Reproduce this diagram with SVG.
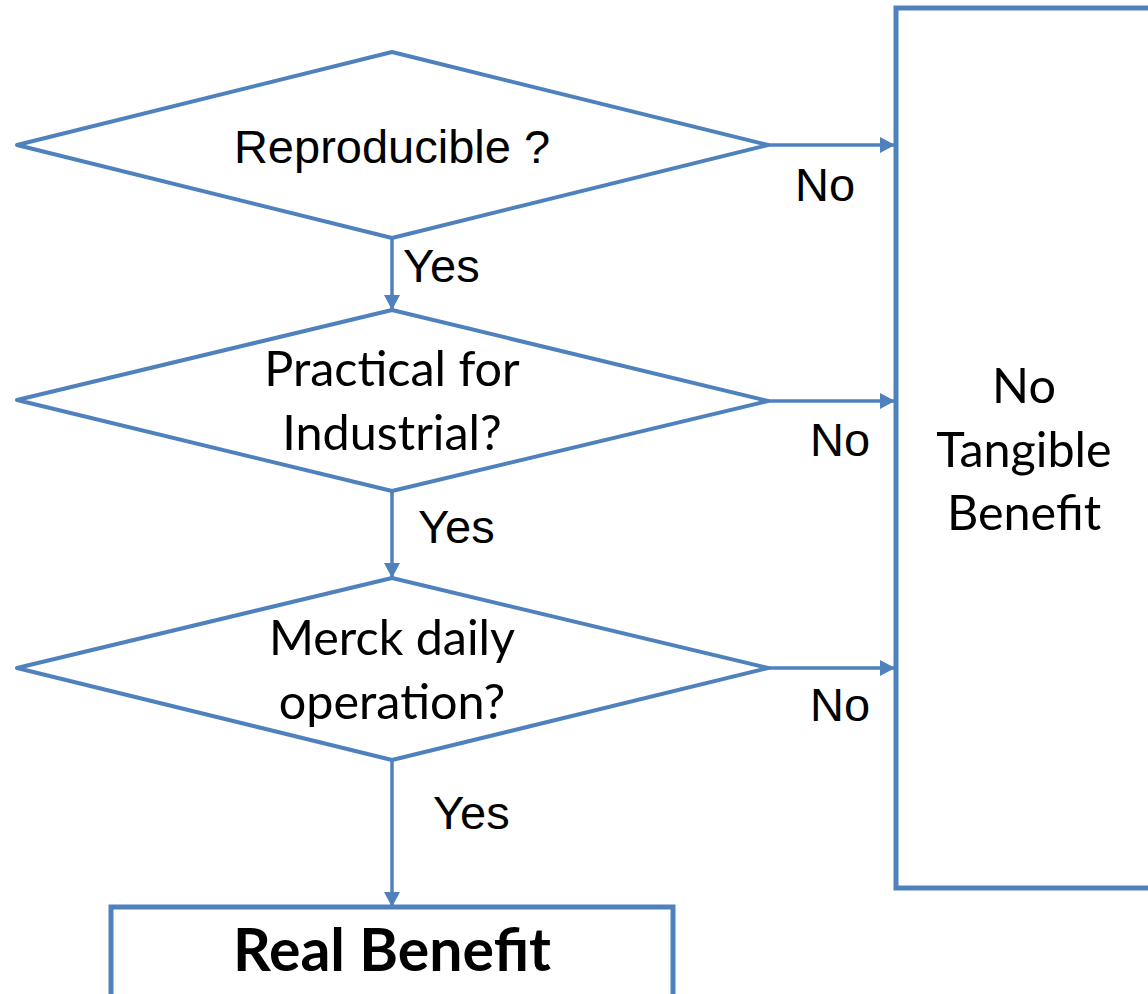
<svg xmlns="http://www.w3.org/2000/svg" width="1148" height="994" viewBox="0 0 1148 994">
  <defs>
    <style>
      .shape { fill: #FFFFFF; stroke: #4F81BD; stroke-width: 4; stroke-linejoin: round; }
      .box { fill: #FFFFFF; stroke: #4F81BD; stroke-width: 5; }
      .conn { fill: none; stroke: #4F81BD; stroke-width: 3.5; }
      .arial { font-family: "Liberation Sans", Arial, sans-serif; fill: #000000; }
      .cal { font-family: Lato, "Open Sans", sans-serif; fill: #000000; }
      .lbl { font-family: "Liberation Sans", Arial, sans-serif; font-size: 47px; fill: #000000; }
    </style>
    <marker id="arr" markerUnits="userSpaceOnUse" markerWidth="16" markerHeight="16" refX="15" refY="8" orient="auto">
      <path d="M0,0 L15,8 L0,16 Z" fill="#4F81BD"/>
    </marker>
  </defs>
  <rect width="1148" height="994" fill="#FFFFFF"/>

  <g id="connectors">
    <line class="conn" x1="768" y1="145" x2="895" y2="145" marker-end="url(#arr)"/>
    <line class="conn" x1="768" y1="401" x2="895" y2="401" marker-end="url(#arr)"/>
    <line class="conn" x1="768" y1="668" x2="895" y2="668" marker-end="url(#arr)"/>
    <line class="conn" x1="392" y1="238" x2="392" y2="310" marker-end="url(#arr)"/>
    <line class="conn" x1="392" y1="491" x2="392" y2="578" marker-end="url(#arr)"/>
    <line class="conn" x1="392" y1="760" x2="392" y2="907" marker-end="url(#arr)"/>
    <text class="lbl" x="795" y="201">No</text>
    <text class="lbl" x="810" y="456">No</text>
    <text class="lbl" x="810" y="721">No</text>
    <text class="lbl" x="403" y="282">Yes</text>
    <text class="lbl" x="418" y="543">Yes</text>
    <text class="lbl" x="433" y="829">Yes</text>
  </g>

  <g id="node-reproducible">
    <polygon class="shape" points="17,145 392,52 768,145 392,238"/>
    <text class="arial" x="392" y="163" font-size="47" text-anchor="middle">Reproducible ?</text>
  </g>

  <g id="node-practical">
    <polygon class="shape" points="17,400 392,310 768,401 392,491"/>
    <text class="cal" x="392" y="386" font-size="48.5" text-anchor="middle">Practical for</text>
    <text class="cal" x="392" y="450" font-size="48.5" text-anchor="middle">Industrial?</text>
  </g>

  <g id="node-merck">
    <polygon class="shape" points="17,668 392,578 768,668 392,760"/>
    <text class="cal" x="392" y="655" font-size="48.5" text-anchor="middle">Merck daily</text>
    <text class="cal" x="392" y="719" font-size="48.5" text-anchor="middle">operation?</text>
  </g>

  <g id="node-no-benefit">
    <rect class="box" x="896" y="8" width="280" height="880"/>
    <text class="cal" x="1024" y="403" font-size="48.5" text-anchor="middle">No</text>
    <text class="cal" x="1024" y="467" font-size="48.5" text-anchor="middle">Tangible</text>
    <text class="cal" x="1024" y="530" font-size="48.5" text-anchor="middle">Benefit</text>
  </g>

  <g id="node-real-benefit">
    <rect class="box" x="111" y="907" width="562" height="120"/>
    <text class="cal" x="392" y="971" font-size="59" font-weight="bold" text-anchor="middle">Real Benefit</text>
  </g>
</svg>
